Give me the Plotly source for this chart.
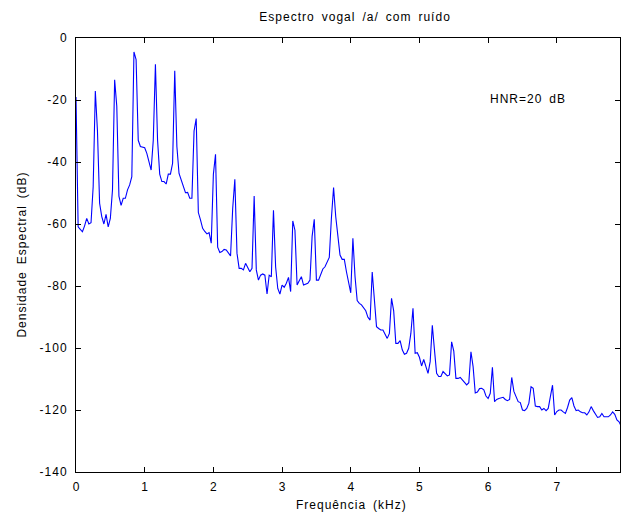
import numpy as np
import plotly.graph_objects as go

# Spectrum (dB), one value per 31.25 Hz bin
bin_width_khz = 0.03125
spectrum_db = [
    -19.0, -60.9, -61.7, -62.5, -60.6, -58.2, -60.0, -59.6, -48.0, -17.1,
    -30.0, -53.3, -57.6, -60.0, -56.9, -60.9, -58.2, -49.0, -13.5, -22.0,
    -51.0, -54.0, -51.7, -51.7, -49.0, -47.4, -44.7, -4.5, -7.0, -33.0,
    -35.0, -35.2, -35.4, -37.2, -40.4, -42.6, -33.0, -8.5, -33.0, -43.9,
    -46.3, -46.3, -47.1, -43.9, -43.9, -40.4, -10.6, -35.0, -43.7, -45.6,
    -47.4, -49.9, -49.8, -51.7, -51.7, -30.0, -26.0, -56.3, -58.7, -61.4,
    -62.4, -63.2, -62.8, -66.2, -44.0, -37.5, -67.5, -69.2, -68.9, -68.2,
    -68.4, -69.2, -70.3, -55.0, -45.6, -69.4, -74.3, -74.3, -74.8, -72.7,
    -74.3, -75.4, -74.3, -51.0, -74.8, -78.1, -76.5, -76.1, -76.5, -82.6,
    -76.5, -77.0, -55.6, -73.8, -80.8, -82.6, -79.7, -80.4, -79.1, -77.2,
    -81.8, -59.0, -62.0, -79.7, -78.3, -77.0, -79.7, -79.4, -79.1, -78.1,
    -64.0, -58.5, -78.1, -78.1, -76.5, -74.5, -73.8, -72.2, -70.8, -58.0,
    -48.2, -57.6, -64.3, -70.0, -71.4, -71.4, -75.4, -79.1, -82.2, -64.6,
    -77.0, -84.7, -85.6, -86.1, -86.9, -88.0, -90.1, -91.0, -75.5, -83.4,
    -93.1, -93.7, -94.2, -94.2, -95.8, -96.9, -95.3, -84.0, -88.0, -98.5,
    -98.5, -97.6, -100.6, -102.0, -101.7, -100.1, -95.3, -87.2, -101.7, -101.5,
    -103.0, -105.8, -103.7, -106.0, -108.2, -104.4, -92.7, -100.6, -108.2, -109.2,
    -109.2, -107.6, -108.4, -109.0, -108.7, -98.0, -101.0, -109.8, -109.8, -109.5,
    -110.3, -111.2, -111.9, -111.2, -101.2, -106.0, -114.5, -114.2, -113.1, -113.0,
    -113.5, -115.5, -116.3, -114.6, -106.2, -117.3, -116.6, -116.3, -116.1, -115.9,
    -116.6, -117.0, -116.6, -109.5, -114.0, -115.7, -117.3, -117.6, -120.0, -120.2,
    -119.5, -117.8, -112.5, -113.0, -118.7, -118.9, -118.9, -120.0, -119.5, -120.2,
    -119.5, -115.7, -112.0, -121.6, -120.5, -120.0, -120.0, -120.6, -121.1, -119.2,
    -116.8, -116.0, -118.7, -120.2, -120.0, -120.6, -120.9, -120.9, -121.6, -120.6,
    -118.9, -120.2, -121.1, -122.4, -122.2, -121.1, -122.2, -122.2, -122.2, -121.6,
    -120.6, -121.4, -123.2, -123.8, -125.2, -123.2,
]
freq_khz = np.arange(len(spectrum_db)) * bin_width_khz

x_ticks = [0, 1, 2, 3, 4, 5, 6, 7]
y_ticks = [0, -20, -40, -60, -80, -100, -120, -140]

title_text = "Espectro vogal /a/ com ruído"
x_title = "Frequência (kHz)"
y_title = "Densidade Espectral (dB)"
hnr_text = "HNR=20 dB"
hnr_pos = (6.58, -19.7)

FONT = "Liberation Sans, Arial, sans-serif"
FS = 12


def spaced(s):
    return "\u200a".join(s.replace(" ", "\u2002"))


fig = go.Figure()
fig.add_trace(go.Scatter(x=freq_khz, y=spectrum_db, mode="lines",
                         line=dict(color="#0000ff", width=1.1), showlegend=False))

axis_common = dict(showgrid=False, zeroline=False, showline=True, linecolor="black",
                   linewidth=1, mirror="ticks", ticks="inside", ticklen=5,
                   tickcolor="black", tickfont=dict(family=FONT, size=FS, color="black"))

fig.update_xaxes(range=[0, 7.92], tickvals=x_ticks,
                 ticktext=[spaced(str(v)) for v in x_ticks], ticklabelstandoff=4,
                 **axis_common)
fig.update_yaxes(range=[-140, 0], tickvals=y_ticks,
                 ticktext=[spaced(str(v)) for v in y_ticks], ticklabelstandoff=6,
                 **axis_common)

fig.add_annotation(x=0.505, y=-0.075, xref="paper", yref="paper", text=spaced(x_title),
                   showarrow=False, font=dict(family=FONT, size=FS, color="black"),
                   xanchor="center", yanchor="middle")
fig.add_annotation(x=-0.1, y=0.5, xref="paper", yref="paper", text=spaced(y_title),
                   showarrow=False, textangle=-90,
                   font=dict(family=FONT, size=FS, color="black"),
                   xanchor="center", yanchor="middle")
fig.add_annotation(x=hnr_pos[0], y=hnr_pos[1], xref="x", yref="y", text=spaced(hnr_text),
                   showarrow=False, font=dict(family=FONT, size=FS, color="black"),
                   xanchor="center", yanchor="middle")

fig.update_layout(
    width=621, height=513,
    margin=dict(l=76, r=1, t=38, b=41),
    paper_bgcolor="white", plot_bgcolor="white",
    title=dict(text=spaced(title_text), x=0.571, xanchor="center",
               y=1 - 17 / 513, yanchor="middle", yref="container",
               font=dict(family=FONT, size=FS, color="black")),
)

fig.write_html("out.html", config={"displayModeBar": False},
               post_script="document.body.style.margin='0';")
